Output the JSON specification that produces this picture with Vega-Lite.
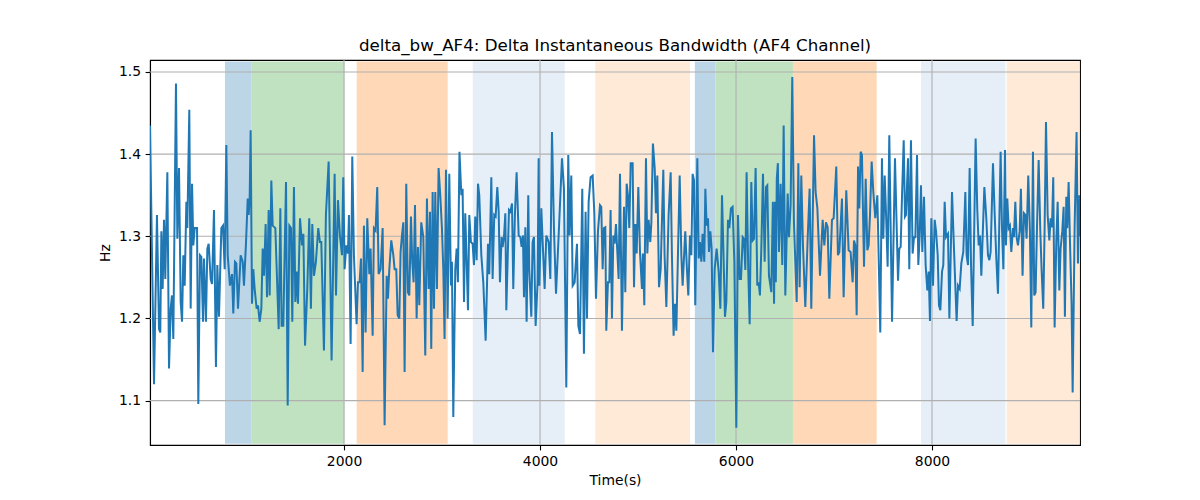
{
  "$schema": "https://vega.github.io/schema/vega-lite/v6.json",
  "width": 930,
  "height": 385,
  "autosize": "none",
  "padding": {"left": 150, "top": 60, "right": 120, "bottom": 55},
  "background": "white",
  "title": {
    "text": "delta_bw_AF4: Delta Instantaneous Bandwidth (AF4 Channel)",
    "font": "DejaVu Sans",
    "fontSize": 16.7,
    "fontWeight": "normal",
    "color": "black",
    "offset": 5
  },
  "config": {
    "view": {"stroke": "black", "strokeWidth": 1.1},
    "axis": {
      "grid": false,
      "zindex": 1,
      "labelFont": "DejaVu Sans",
      "labelFontSize": 13.9,
      "labelColor": "black",
      "titleFont": "DejaVu Sans",
      "titleFontSize": 13.9,
      "titleFontWeight": "normal",
      "titleColor": "black",
      "tickColor": "black",
      "tickSize": 4.9,
      "tickWidth": 1.1,
      "domainColor": "black",
      "domainWidth": 1.1,
      "labelPadding": 4.5
    }
  },
  "datasets": {
    "bands": [
      {"start": 785, "end": 1058, "phase": "P1"},
      {"start": 1058, "end": 2003, "phase": "P2"},
      {"start": 2129, "end": 3058, "phase": "P3"},
      {"start": 3313, "end": 4252, "phase": "P4"},
      {"start": 4564, "end": 5530, "phase": "P5"},
      {"start": 5580, "end": 5789, "phase": "P1"},
      {"start": 5789, "end": 6581, "phase": "P2"},
      {"start": 6581, "end": 7435, "phase": "P3"},
      {"start": 7887, "end": 8750, "phase": "P4"},
      {"start": 8762, "end": 9503, "phase": "P5"}
    ],
    "xgrid": [{"v": 2000}, {"v": 4000}, {"v": 6000}, {"v": 8000}],
    "ygrid": [{"v": 1.1}, {"v": 1.2}, {"v": 1.3}, {"v": 1.4}, {"v": 1.5}],
    "signal": [
      {"t": 20, "hz": 1.435}, {"t": 61, "hz": 1.12}, {"t": 91, "hz": 1.326}, {"t": 112, "hz": 1.187},
      {"t": 125, "hz": 1.183}, {"t": 136, "hz": 1.306}, {"t": 149, "hz": 1.236}, {"t": 163, "hz": 1.32},
      {"t": 176, "hz": 1.248}, {"t": 197, "hz": 1.378}, {"t": 214, "hz": 1.139}, {"t": 231, "hz": 1.212},
      {"t": 244, "hz": 1.228}, {"t": 258, "hz": 1.175}, {"t": 285, "hz": 1.486}, {"t": 299, "hz": 1.297},
      {"t": 316, "hz": 1.383}, {"t": 333, "hz": 1.22}, {"t": 347, "hz": 1.196}, {"t": 360, "hz": 1.277},
      {"t": 374, "hz": 1.24}, {"t": 391, "hz": 1.342}, {"t": 401, "hz": 1.31}, {"t": 421, "hz": 1.454},
      {"t": 435, "hz": 1.212}, {"t": 449, "hz": 1.364}, {"t": 462, "hz": 1.289}, {"t": 476, "hz": 1.31},
      {"t": 500, "hz": 1.31}, {"t": 513, "hz": 1.096}, {"t": 530, "hz": 1.277}, {"t": 544, "hz": 1.275},
      {"t": 561, "hz": 1.196}, {"t": 571, "hz": 1.273}, {"t": 591, "hz": 1.196}, {"t": 605, "hz": 1.285},
      {"t": 619, "hz": 1.291}, {"t": 639, "hz": 1.248}, {"t": 653, "hz": 1.242}, {"t": 673, "hz": 1.332},
      {"t": 693, "hz": 1.141}, {"t": 707, "hz": 1.265}, {"t": 724, "hz": 1.202}, {"t": 748, "hz": 1.31},
      {"t": 765, "hz": 1.313}, {"t": 782, "hz": 1.26}, {"t": 799, "hz": 1.411}, {"t": 813, "hz": 1.277},
      {"t": 836, "hz": 1.24}, {"t": 857, "hz": 1.254}, {"t": 870, "hz": 1.206}, {"t": 887, "hz": 1.269},
      {"t": 901, "hz": 1.267}, {"t": 918, "hz": 1.212}, {"t": 945, "hz": 1.277}, {"t": 966, "hz": 1.269},
      {"t": 979, "hz": 1.24}, {"t": 1000, "hz": 1.293}, {"t": 1017, "hz": 1.346}, {"t": 1027, "hz": 1.326},
      {"t": 1037, "hz": 1.346}, {"t": 1047, "hz": 1.429}, {"t": 1061, "hz": 1.218}, {"t": 1074, "hz": 1.26},
      {"t": 1088, "hz": 1.236}, {"t": 1108, "hz": 1.212}, {"t": 1122, "hz": 1.216}, {"t": 1139, "hz": 1.196},
      {"t": 1156, "hz": 1.212}, {"t": 1170, "hz": 1.285}, {"t": 1183, "hz": 1.252}, {"t": 1200, "hz": 1.315},
      {"t": 1214, "hz": 1.226}, {"t": 1231, "hz": 1.332}, {"t": 1241, "hz": 1.228}, {"t": 1258, "hz": 1.368},
      {"t": 1272, "hz": 1.313}, {"t": 1299, "hz": 1.31}, {"t": 1333, "hz": 1.187}, {"t": 1350, "hz": 1.334},
      {"t": 1363, "hz": 1.191}, {"t": 1380, "hz": 1.191}, {"t": 1408, "hz": 1.366}, {"t": 1425, "hz": 1.094},
      {"t": 1442, "hz": 1.313}, {"t": 1459, "hz": 1.31}, {"t": 1472, "hz": 1.196}, {"t": 1489, "hz": 1.36},
      {"t": 1503, "hz": 1.22}, {"t": 1517, "hz": 1.257}, {"t": 1530, "hz": 1.218}, {"t": 1551, "hz": 1.322},
      {"t": 1571, "hz": 1.289}, {"t": 1585, "hz": 1.303}, {"t": 1602, "hz": 1.167}, {"t": 1625, "hz": 1.236},
      {"t": 1645, "hz": 1.322}, {"t": 1662, "hz": 1.212}, {"t": 1676, "hz": 1.315}, {"t": 1693, "hz": 1.252},
      {"t": 1713, "hz": 1.269}, {"t": 1737, "hz": 1.31}, {"t": 1754, "hz": 1.293}, {"t": 1768, "hz": 1.293},
      {"t": 1795, "hz": 1.161}, {"t": 1815, "hz": 1.326}, {"t": 1843, "hz": 1.391}, {"t": 1873, "hz": 1.149},
      {"t": 1904, "hz": 1.376}, {"t": 1918, "hz": 1.228}, {"t": 1938, "hz": 1.344}, {"t": 1958, "hz": 1.301},
      {"t": 1979, "hz": 1.277}, {"t": 1992, "hz": 1.372}, {"t": 2006, "hz": 1.26}, {"t": 2023, "hz": 1.289},
      {"t": 2040, "hz": 1.279}, {"t": 2050, "hz": 1.326}, {"t": 2067, "hz": 1.169}, {"t": 2084, "hz": 1.397},
      {"t": 2101, "hz": 1.277}, {"t": 2128, "hz": 1.193}, {"t": 2142, "hz": 1.244}, {"t": 2159, "hz": 1.244},
      {"t": 2173, "hz": 1.273}, {"t": 2190, "hz": 1.135}, {"t": 2203, "hz": 1.313}, {"t": 2220, "hz": 1.183},
      {"t": 2237, "hz": 1.322}, {"t": 2258, "hz": 1.254}, {"t": 2271, "hz": 1.285}, {"t": 2292, "hz": 1.179},
      {"t": 2305, "hz": 1.31}, {"t": 2322, "hz": 1.307}, {"t": 2339, "hz": 1.36}, {"t": 2353, "hz": 1.254},
      {"t": 2373, "hz": 1.26}, {"t": 2394, "hz": 1.31}, {"t": 2414, "hz": 1.07}, {"t": 2435, "hz": 1.252},
      {"t": 2448, "hz": 1.224}, {"t": 2462, "hz": 1.26}, {"t": 2482, "hz": 1.295}, {"t": 2503, "hz": 1.277},
      {"t": 2516, "hz": 1.26}, {"t": 2533, "hz": 1.26}, {"t": 2547, "hz": 1.204}, {"t": 2564, "hz": 1.2},
      {"t": 2577, "hz": 1.281}, {"t": 2591, "hz": 1.301}, {"t": 2605, "hz": 1.317}, {"t": 2618, "hz": 1.135},
      {"t": 2635, "hz": 1.364}, {"t": 2652, "hz": 1.232}, {"t": 2666, "hz": 1.228}, {"t": 2683, "hz": 1.324},
      {"t": 2696, "hz": 1.269}, {"t": 2710, "hz": 1.244}, {"t": 2724, "hz": 1.338}, {"t": 2741, "hz": 1.2},
      {"t": 2754, "hz": 1.287}, {"t": 2768, "hz": 1.216}, {"t": 2788, "hz": 1.317}, {"t": 2809, "hz": 1.299},
      {"t": 2829, "hz": 1.155}, {"t": 2846, "hz": 1.346}, {"t": 2863, "hz": 1.236}, {"t": 2877, "hz": 1.33},
      {"t": 2890, "hz": 1.163}, {"t": 2904, "hz": 1.354}, {"t": 2918, "hz": 1.212}, {"t": 2931, "hz": 1.354},
      {"t": 2948, "hz": 1.236}, {"t": 2965, "hz": 1.383}, {"t": 2982, "hz": 1.35}, {"t": 2999, "hz": 1.31},
      {"t": 3013, "hz": 1.26}, {"t": 3026, "hz": 1.175}, {"t": 3040, "hz": 1.381}, {"t": 3057, "hz": 1.2},
      {"t": 3074, "hz": 1.376}, {"t": 3091, "hz": 1.24}, {"t": 3101, "hz": 1.269}, {"t": 3115, "hz": 1.08},
      {"t": 3135, "hz": 1.26}, {"t": 3149, "hz": 1.285}, {"t": 3162, "hz": 1.244}, {"t": 3178, "hz": 1.403},
      {"t": 3197, "hz": 1.35}, {"t": 3210, "hz": 1.358}, {"t": 3224, "hz": 1.22}, {"t": 3237, "hz": 1.328},
      {"t": 3265, "hz": 1.21}, {"t": 3278, "hz": 1.326}, {"t": 3295, "hz": 1.293}, {"t": 3312, "hz": 1.291},
      {"t": 3326, "hz": 1.265}, {"t": 3339, "hz": 1.324}, {"t": 3353, "hz": 1.271}, {"t": 3367, "hz": 1.364},
      {"t": 3380, "hz": 1.35}, {"t": 3401, "hz": 1.277}, {"t": 3421, "hz": 1.244}, {"t": 3445, "hz": 1.173},
      {"t": 3469, "hz": 1.291}, {"t": 3482, "hz": 1.254}, {"t": 3503, "hz": 1.372}, {"t": 3516, "hz": 1.248},
      {"t": 3533, "hz": 1.326}, {"t": 3547, "hz": 1.324}, {"t": 3564, "hz": 1.36}, {"t": 3578, "hz": 1.33},
      {"t": 3591, "hz": 1.244}, {"t": 3608, "hz": 1.299}, {"t": 3618, "hz": 1.287}, {"t": 3632, "hz": 1.299},
      {"t": 3646, "hz": 1.328}, {"t": 3656, "hz": 1.21}, {"t": 3683, "hz": 1.332}, {"t": 3697, "hz": 1.33},
      {"t": 3714, "hz": 1.34}, {"t": 3727, "hz": 1.236}, {"t": 3744, "hz": 1.328}, {"t": 3761, "hz": 1.378},
      {"t": 3782, "hz": 1.301}, {"t": 3799, "hz": 1.299}, {"t": 3812, "hz": 1.287}, {"t": 3826, "hz": 1.301},
      {"t": 3836, "hz": 1.226}, {"t": 3850, "hz": 1.311}, {"t": 3863, "hz": 1.196}, {"t": 3880, "hz": 1.35},
      {"t": 3890, "hz": 1.26}, {"t": 3911, "hz": 1.202}, {"t": 3924, "hz": 1.293}, {"t": 3938, "hz": 1.299},
      {"t": 3955, "hz": 1.191}, {"t": 3975, "hz": 1.244}, {"t": 3986, "hz": 1.395}, {"t": 3993, "hz": 1.24},
      {"t": 4013, "hz": 1.334}, {"t": 4027, "hz": 1.293}, {"t": 4047, "hz": 1.236}, {"t": 4064, "hz": 1.301},
      {"t": 4088, "hz": 1.293}, {"t": 4105, "hz": 1.248}, {"t": 4122, "hz": 1.427}, {"t": 4142, "hz": 1.31},
      {"t": 4163, "hz": 1.23}, {"t": 4190, "hz": 1.301}, {"t": 4224, "hz": 1.395}, {"t": 4244, "hz": 1.358},
      {"t": 4268, "hz": 1.116}, {"t": 4288, "hz": 1.399}, {"t": 4302, "hz": 1.301}, {"t": 4319, "hz": 1.374},
      {"t": 4333, "hz": 1.24}, {"t": 4353, "hz": 1.244}, {"t": 4377, "hz": 1.291}, {"t": 4391, "hz": 1.191},
      {"t": 4408, "hz": 1.181}, {"t": 4431, "hz": 1.358}, {"t": 4448, "hz": 1.157}, {"t": 4465, "hz": 1.33},
      {"t": 4479, "hz": 1.2}, {"t": 4496, "hz": 1.342}, {"t": 4516, "hz": 1.372}, {"t": 4537, "hz": 1.374},
      {"t": 4554, "hz": 1.328}, {"t": 4571, "hz": 1.224}, {"t": 4591, "hz": 1.306}, {"t": 4612, "hz": 1.338},
      {"t": 4625, "hz": 1.336}, {"t": 4639, "hz": 1.26}, {"t": 4652, "hz": 1.31}, {"t": 4666, "hz": 1.311},
      {"t": 4676, "hz": 1.185}, {"t": 4693, "hz": 1.244}, {"t": 4707, "hz": 1.244}, {"t": 4720, "hz": 1.332},
      {"t": 4734, "hz": 1.2}, {"t": 4748, "hz": 1.301}, {"t": 4761, "hz": 1.291}, {"t": 4775, "hz": 1.315},
      {"t": 4802, "hz": 1.248}, {"t": 4816, "hz": 1.376}, {"t": 4836, "hz": 1.185}, {"t": 4857, "hz": 1.336},
      {"t": 4870, "hz": 1.232}, {"t": 4884, "hz": 1.364}, {"t": 4897, "hz": 1.35}, {"t": 4911, "hz": 1.31},
      {"t": 4925, "hz": 1.389}, {"t": 4945, "hz": 1.389}, {"t": 4959, "hz": 1.238}, {"t": 4972, "hz": 1.315},
      {"t": 4986, "hz": 1.279}, {"t": 5003, "hz": 1.36}, {"t": 5020, "hz": 1.281}, {"t": 5040, "hz": 1.236},
      {"t": 5050, "hz": 1.279}, {"t": 5064, "hz": 1.216}, {"t": 5081, "hz": 1.395}, {"t": 5095, "hz": 1.279},
      {"t": 5108, "hz": 1.32}, {"t": 5125, "hz": 1.293}, {"t": 5136, "hz": 1.317}, {"t": 5152, "hz": 1.413},
      {"t": 5170, "hz": 1.383}, {"t": 5183, "hz": 1.328}, {"t": 5197, "hz": 1.374}, {"t": 5214, "hz": 1.238},
      {"t": 5231, "hz": 1.26}, {"t": 5258, "hz": 1.381}, {"t": 5271, "hz": 1.277}, {"t": 5289, "hz": 1.214},
      {"t": 5312, "hz": 1.326}, {"t": 5333, "hz": 1.378}, {"t": 5346, "hz": 1.277}, {"t": 5363, "hz": 1.179},
      {"t": 5377, "hz": 1.218}, {"t": 5391, "hz": 1.185}, {"t": 5408, "hz": 1.281}, {"t": 5425, "hz": 1.374},
      {"t": 5442, "hz": 1.277}, {"t": 5455, "hz": 1.24}, {"t": 5482, "hz": 1.306}, {"t": 5499, "hz": 1.26},
      {"t": 5513, "hz": 1.228}, {"t": 5530, "hz": 1.301}, {"t": 5544, "hz": 1.277}, {"t": 5557, "hz": 1.376},
      {"t": 5571, "hz": 1.368}, {"t": 5584, "hz": 1.216}, {"t": 5605, "hz": 1.395}, {"t": 5619, "hz": 1.273},
      {"t": 5632, "hz": 1.293}, {"t": 5646, "hz": 1.269}, {"t": 5659, "hz": 1.303}, {"t": 5676, "hz": 1.269},
      {"t": 5687, "hz": 1.358}, {"t": 5700, "hz": 1.313}, {"t": 5714, "hz": 1.322}, {"t": 5724, "hz": 1.281},
      {"t": 5738, "hz": 1.306}, {"t": 5751, "hz": 1.285}, {"t": 5765, "hz": 1.159}, {"t": 5782, "hz": 1.26},
      {"t": 5802, "hz": 1.285}, {"t": 5823, "hz": 1.257}, {"t": 5840, "hz": 1.212}, {"t": 5857, "hz": 1.35},
      {"t": 5874, "hz": 1.269}, {"t": 5887, "hz": 1.202}, {"t": 5901, "hz": 1.22}, {"t": 5918, "hz": 1.32},
      {"t": 5932, "hz": 1.31}, {"t": 5948, "hz": 1.334}, {"t": 5965, "hz": 1.336}, {"t": 5983, "hz": 1.269},
      {"t": 6003, "hz": 1.067}, {"t": 6020, "hz": 1.326}, {"t": 6037, "hz": 1.248}, {"t": 6051, "hz": 1.248},
      {"t": 6068, "hz": 1.299}, {"t": 6081, "hz": 1.297}, {"t": 6095, "hz": 1.259}, {"t": 6108, "hz": 1.378},
      {"t": 6125, "hz": 1.257}, {"t": 6139, "hz": 1.193}, {"t": 6156, "hz": 1.366}, {"t": 6170, "hz": 1.295},
      {"t": 6183, "hz": 1.297}, {"t": 6200, "hz": 1.383}, {"t": 6217, "hz": 1.24}, {"t": 6231, "hz": 1.244},
      {"t": 6244, "hz": 1.228}, {"t": 6258, "hz": 1.285}, {"t": 6275, "hz": 1.376}, {"t": 6292, "hz": 1.269},
      {"t": 6306, "hz": 1.36}, {"t": 6319, "hz": 1.362}, {"t": 6336, "hz": 1.252}, {"t": 6360, "hz": 1.232},
      {"t": 6376, "hz": 1.342}, {"t": 6388, "hz": 1.218}, {"t": 6398, "hz": 1.342}, {"t": 6406, "hz": 1.244},
      {"t": 6416, "hz": 1.37}, {"t": 6427, "hz": 1.389}, {"t": 6438, "hz": 1.281}, {"t": 6455, "hz": 1.364},
      {"t": 6472, "hz": 1.265}, {"t": 6486, "hz": 1.435}, {"t": 6503, "hz": 1.228}, {"t": 6527, "hz": 1.352},
      {"t": 6540, "hz": 1.299}, {"t": 6557, "hz": 1.338}, {"t": 6574, "hz": 1.494}, {"t": 6591, "hz": 1.317},
      {"t": 6619, "hz": 1.22}, {"t": 6636, "hz": 1.389}, {"t": 6649, "hz": 1.238}, {"t": 6666, "hz": 1.374},
      {"t": 6683, "hz": 1.289}, {"t": 6707, "hz": 1.214}, {"t": 6731, "hz": 1.297}, {"t": 6751, "hz": 1.358},
      {"t": 6768, "hz": 1.212}, {"t": 6796, "hz": 1.423}, {"t": 6812, "hz": 1.354}, {"t": 6830, "hz": 1.334},
      {"t": 6857, "hz": 1.252}, {"t": 6884, "hz": 1.32}, {"t": 6901, "hz": 1.289}, {"t": 6918, "hz": 1.317},
      {"t": 6935, "hz": 1.311}, {"t": 6952, "hz": 1.224}, {"t": 6979, "hz": 1.32}, {"t": 6996, "hz": 1.322},
      {"t": 7023, "hz": 1.385}, {"t": 7040, "hz": 1.277}, {"t": 7054, "hz": 1.281}, {"t": 7081, "hz": 1.346},
      {"t": 7098, "hz": 1.226}, {"t": 7125, "hz": 1.356}, {"t": 7149, "hz": 1.283}, {"t": 7169, "hz": 1.281},
      {"t": 7190, "hz": 1.244}, {"t": 7204, "hz": 1.295}, {"t": 7217, "hz": 1.289}, {"t": 7231, "hz": 1.204},
      {"t": 7245, "hz": 1.385}, {"t": 7258, "hz": 1.334}, {"t": 7272, "hz": 1.403}, {"t": 7285, "hz": 1.399},
      {"t": 7306, "hz": 1.263}, {"t": 7323, "hz": 1.37}, {"t": 7340, "hz": 1.283}, {"t": 7353, "hz": 1.289},
      {"t": 7367, "hz": 1.326}, {"t": 7384, "hz": 1.391}, {"t": 7401, "hz": 1.354}, {"t": 7421, "hz": 1.322},
      {"t": 7442, "hz": 1.35}, {"t": 7472, "hz": 1.183}, {"t": 7489, "hz": 1.395}, {"t": 7503, "hz": 1.297},
      {"t": 7517, "hz": 1.374}, {"t": 7530, "hz": 1.33}, {"t": 7547, "hz": 1.263}, {"t": 7564, "hz": 1.423},
      {"t": 7592, "hz": 1.196}, {"t": 7622, "hz": 1.395}, {"t": 7653, "hz": 1.246}, {"t": 7666, "hz": 1.285},
      {"t": 7680, "hz": 1.287}, {"t": 7694, "hz": 1.35}, {"t": 7711, "hz": 1.417}, {"t": 7724, "hz": 1.324},
      {"t": 7734, "hz": 1.326}, {"t": 7755, "hz": 1.395}, {"t": 7768, "hz": 1.26}, {"t": 7785, "hz": 1.417},
      {"t": 7802, "hz": 1.279}, {"t": 7816, "hz": 1.299}, {"t": 7830, "hz": 1.299}, {"t": 7847, "hz": 1.399},
      {"t": 7860, "hz": 1.265}, {"t": 7874, "hz": 1.301}, {"t": 7887, "hz": 1.362}, {"t": 7901, "hz": 1.281},
      {"t": 7918, "hz": 1.348}, {"t": 7935, "hz": 1.265}, {"t": 7952, "hz": 1.234}, {"t": 7966, "hz": 1.257},
      {"t": 7979, "hz": 1.197}, {"t": 7993, "hz": 1.322}, {"t": 8010, "hz": 1.24}, {"t": 8027, "hz": 1.32},
      {"t": 8041, "hz": 1.306}, {"t": 8058, "hz": 1.277}, {"t": 8071, "hz": 1.216}, {"t": 8085, "hz": 1.21},
      {"t": 8102, "hz": 1.257}, {"t": 8115, "hz": 1.265}, {"t": 8129, "hz": 1.342}, {"t": 8143, "hz": 1.299},
      {"t": 8163, "hz": 1.303}, {"t": 8177, "hz": 1.2}, {"t": 8204, "hz": 1.354}, {"t": 8224, "hz": 1.285},
      {"t": 8251, "hz": 1.197}, {"t": 8265, "hz": 1.24}, {"t": 8282, "hz": 1.236}, {"t": 8299, "hz": 1.267},
      {"t": 8319, "hz": 1.281}, {"t": 8340, "hz": 1.354}, {"t": 8353, "hz": 1.277}, {"t": 8367, "hz": 1.265},
      {"t": 8384, "hz": 1.383}, {"t": 8398, "hz": 1.265}, {"t": 8415, "hz": 1.191}, {"t": 8445, "hz": 1.419},
      {"t": 8462, "hz": 1.332}, {"t": 8476, "hz": 1.289}, {"t": 8490, "hz": 1.301}, {"t": 8503, "hz": 1.252},
      {"t": 8534, "hz": 1.36}, {"t": 8554, "hz": 1.322}, {"t": 8571, "hz": 1.277}, {"t": 8585, "hz": 1.271},
      {"t": 8598, "hz": 1.281}, {"t": 8622, "hz": 1.389}, {"t": 8639, "hz": 1.328}, {"t": 8656, "hz": 1.273},
      {"t": 8673, "hz": 1.23}, {"t": 8700, "hz": 1.403}, {"t": 8714, "hz": 1.31}, {"t": 8728, "hz": 1.26},
      {"t": 8745, "hz": 1.405}, {"t": 8754, "hz": 1.289}, {"t": 8768, "hz": 1.346}, {"t": 8782, "hz": 1.31},
      {"t": 8795, "hz": 1.313}, {"t": 8809, "hz": 1.281}, {"t": 8826, "hz": 1.31}, {"t": 8836, "hz": 1.299},
      {"t": 8850, "hz": 1.342}, {"t": 8863, "hz": 1.299}, {"t": 8877, "hz": 1.289}, {"t": 8894, "hz": 1.306},
      {"t": 8907, "hz": 1.358}, {"t": 8924, "hz": 1.252}, {"t": 8938, "hz": 1.328}, {"t": 8952, "hz": 1.326},
      {"t": 8965, "hz": 1.297}, {"t": 8982, "hz": 1.374}, {"t": 8999, "hz": 1.306}, {"t": 9013, "hz": 1.189},
      {"t": 9030, "hz": 1.403}, {"t": 9043, "hz": 1.228}, {"t": 9057, "hz": 1.232}, {"t": 9071, "hz": 1.31},
      {"t": 9088, "hz": 1.393}, {"t": 9105, "hz": 1.306}, {"t": 9118, "hz": 1.26}, {"t": 9135, "hz": 1.212},
      {"t": 9149, "hz": 1.31}, {"t": 9163, "hz": 1.439}, {"t": 9180, "hz": 1.326}, {"t": 9197, "hz": 1.295},
      {"t": 9210, "hz": 1.322}, {"t": 9224, "hz": 1.311}, {"t": 9237, "hz": 1.372}, {"t": 9251, "hz": 1.189},
      {"t": 9268, "hz": 1.293}, {"t": 9282, "hz": 1.342}, {"t": 9299, "hz": 1.234}, {"t": 9312, "hz": 1.285},
      {"t": 9329, "hz": 1.306}, {"t": 9343, "hz": 1.336}, {"t": 9356, "hz": 1.202}, {"t": 9370, "hz": 1.348},
      {"t": 9380, "hz": 1.31}, {"t": 9394, "hz": 1.366}, {"t": 9407, "hz": 1.297}, {"t": 9424, "hz": 1.218},
      {"t": 9435, "hz": 1.11}, {"t": 9455, "hz": 1.31}, {"t": 9475, "hz": 1.427}, {"t": 9489, "hz": 1.267},
      {"t": 9503, "hz": 1.35}, {"t": 9510, "hz": 1.3}
    ]
  },
  "layer": [
    {
      "data": {"name": "bands"},
      "mark": {"type": "rect", "clip": true},
      "encoding": {
        "x": {"field": "start", "type": "quantitative", "title": "Time(s)",
          "scale": {"domain": [20, 9510], "nice": false, "zero": false},
          "axis": {"values": [2000, 4000, 6000, 8000], "format": "d", "titlePadding": 5}},
        "x2": {"field": "end"},
        "y": {"datum": 1.5129},
        "y2": {"datum": 1.0475},
        "color": {"field": "phase", "type": "nominal", "legend": null,
          "scale": {"domain": ["P1", "P2", "P3", "P4", "P5"], "range": ["#bcd6e8", "#c0e2c0", "#ffd9b7", "#e6eff7", "#ffead8"]}}
      }
    },
    {
      "data": {"name": "xgrid"},
      "mark": {"type": "rule", "color": "#b0b0b0", "strokeWidth": 1.1},
      "encoding": {
        "x": {"field": "v", "type": "quantitative", "title": "Time(s)"}
      }
    },
    {
      "data": {"name": "ygrid"},
      "mark": {"type": "rule", "color": "#b0b0b0", "strokeWidth": 1.1},
      "encoding": {
        "y": {"field": "v", "type": "quantitative", "title": "Hz"}
      }
    },
    {
      "data": {"name": "signal"},
      "mark": {"type": "line", "color": "#1f77b4", "strokeWidth": 2, "clip": true},
      "encoding": {
        "x": {"field": "t", "type": "quantitative", "title": "Time(s)"},
        "y": {"field": "hz", "type": "quantitative", "title": "Hz",
          "scale": {"domain": [1.046, 1.5146], "nice": false, "zero": false},
          "axis": {"values": [1.1, 1.2, 1.3, 1.4, 1.5], "format": ".1f", "titlePadding": 6}}
      }
    }
  ]
}
